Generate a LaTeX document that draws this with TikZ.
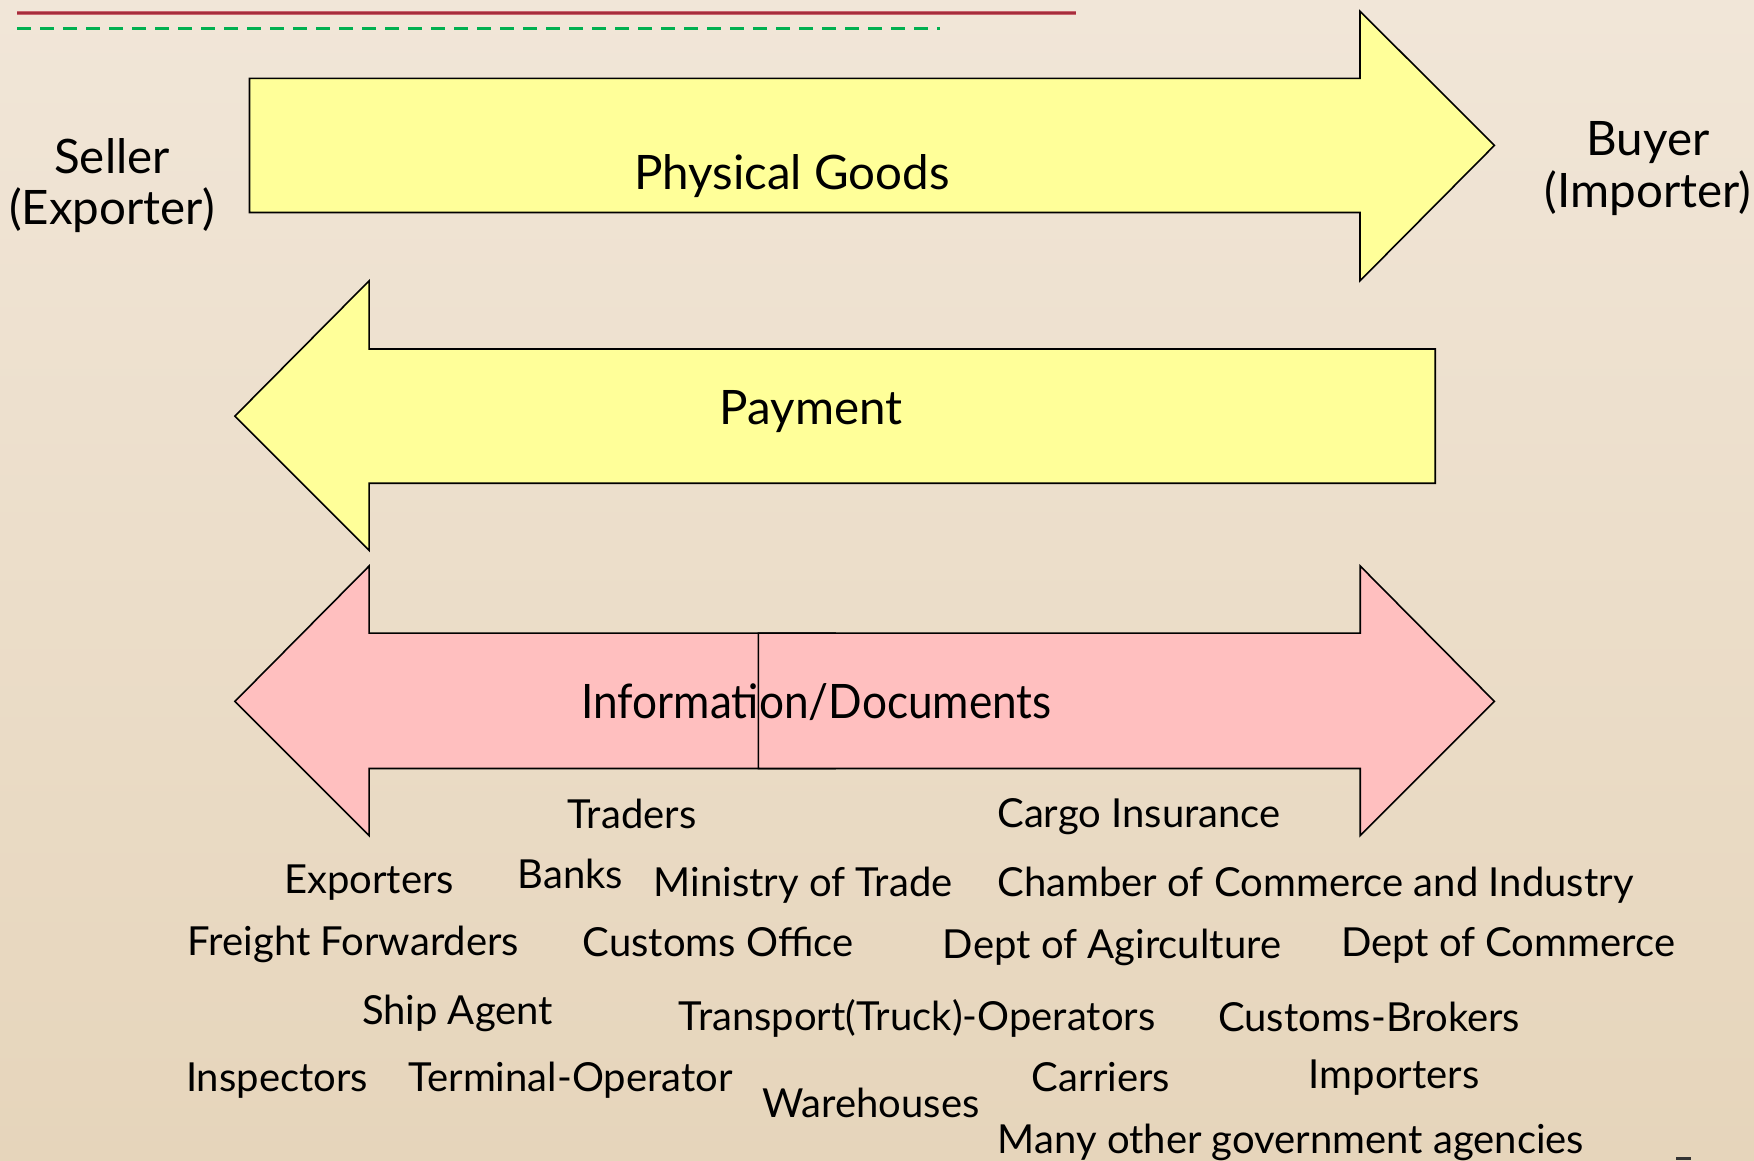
\documentclass[tikz,border=0pt]{standalone}
\usepackage{fontspec}
\setmainfont{Lato}
\definecolor{bgtop}{RGB}{241,230,216}
\definecolor{bgbot}{RGB}{230,213,187}
\definecolor{goods}{RGB}{255,255,153}
\definecolor{info}{RGB}{255,191,191}
\definecolor{redline}{RGB}{200,100,110}
\definecolor{redcore}{RGB}{165,45,60}
\definecolor{greenline}{RGB}{0,176,80}
\tikzset{
  arrowshape/.style={draw=black, line width=1.6pt, line join=miter},
  big/.style={inner sep=0pt, text height=0.72em, text depth=0pt, font=\fontsize{47.5}{52}\selectfont},
  lbl/.style={inner sep=0pt, text height=0.72em, text depth=0pt, font=\fontsize{40}{43}\selectfont},
}
\begin{document}
\begin{tikzpicture}[x=1pt,y=-1pt]
\shade[top color=bgtop,bottom color=bgbot] (0,0) rectangle (1754,1160);
\useasboundingbox (0,0) rectangle (1754,1160);
% top lines
\draw[redline, line width=4pt] (17,13) -- (1076,13);
\draw[redcore, line width=1.2pt] (17,13) -- (1076,13);
\draw[greenline, line width=3pt, dash pattern=on 14pt off 9pt] (17,28) -- (940,28);
% physical goods arrow
\draw[arrowshape, fill=goods] (249.5,78.3) -- (1360,78.3) -- (1360,11.2) -- (1494.4,145.4) -- (1360,280.8) -- (1360,212.5) -- (249.5,212.5) -- cycle;
% payment arrow
\draw[arrowshape, fill=goods] (1435.2,349) -- (369.1,349) -- (369.1,280.8) -- (234.9,416.1) -- (369.1,550.4) -- (369.1,483.2) -- (1435.2,483.2) -- cycle;
% info arrows
\draw[arrowshape, fill=info] (835,633.1) -- (369.1,633.1) -- (369.1,566) -- (234.9,701.4) -- (369.1,835.6) -- (369.1,768.5) -- (835,768.5) -- cycle;
\draw[arrowshape, fill=info] (758.4,633.1) -- (1360.2,633.1) -- (1360.2,566) -- (1494.4,701.4) -- (1360.2,835.6) -- (1360.2,768.5) -- (758.4,768.5) -- cycle;
% big labels
\node[big] (seller) at (112,170) {Seller};
\node[big] (exporter) at (112,221) {(Exporter)};
\node[big] (buyer) at (1648,152) {Buyer};
\node[big] (importer) at (1648,204) {(Importer)};
\node[big] (goodsl) at (792,186) {Physical Goods};
\node[big] (payl) at (811,421) {Payment};
\node[big, xscale=0.93] (infol) at (816.6,715) {Information/Documents};
% stakeholders
\node[lbl] (traders) at (632,825) {Traders};
\node[lbl] (cargo) at (1139,824) {Cargo Insurance};
\node[lbl] (exporters) at (369,890) {Exporters};
\node[lbl] (banks) at (570.5,885) {Banks};
\node[lbl] (ministry) at (803,892.5) {Ministry of Trade};
\node[lbl] (chamber) at (1315.5,892.5) {Chamber of Commerce and Industry};
\node[lbl] (freight) at (353.5,952) {Freight Forwarders};
\node[lbl] (customs) at (718,953) {Customs Office};
\node[lbl] (agri) at (1112,955) {Dept of Agirculture};
\node[lbl] (commerce) at (1508,953) {Dept of Commerce};
\node[lbl] (ship) at (457.5,1021) {Ship Agent};
\node[lbl] (transport) at (917,1027) {Transport(Truck)-Operators};
\node[lbl] (brokers) at (1369,1028) {Customs-Brokers};
\node[lbl] (inspectors) at (277,1088) {Inspectors};
\node[lbl] (terminal) at (570.5,1088) {Terminal-Operator};
\node[lbl] (warehouses) at (871,1114) {Warehouses};
\node[lbl] (carriers) at (1101,1088) {Carriers};
\node[lbl] (importers) at (1394,1085) {Importers};
\node[lbl] (many) at (1291,1150) {Many other government agencies};
% small mark
\fill[black!80] (1676,1157) rectangle (1691,1160);
\end{tikzpicture}
\end{document}
